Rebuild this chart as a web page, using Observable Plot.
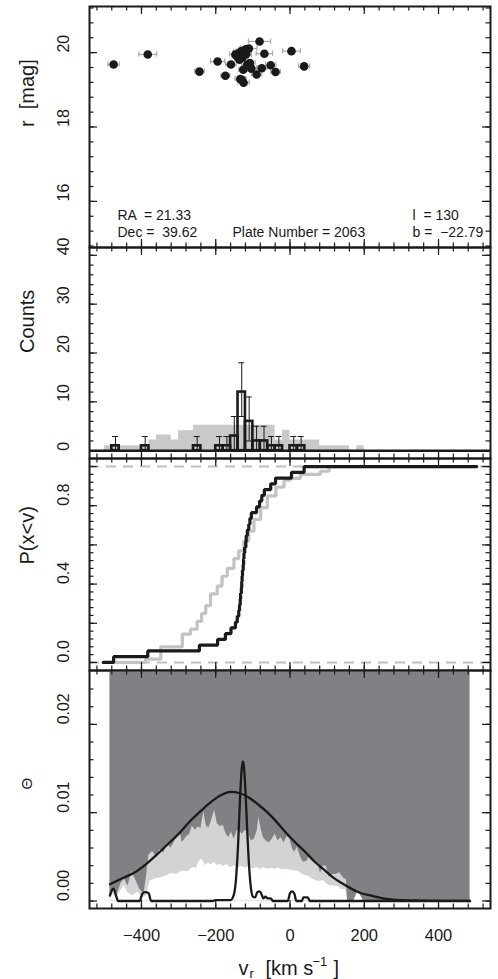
<!DOCTYPE html>
<html><head><meta charset="utf-8">
<script src="https://cdn.jsdelivr.net/npm/d3@7"></script>
<script src="https://cdn.jsdelivr.net/npm/@observablehq/plot@0.6"></script>
<style>
body{margin:0;background:#fff;}
#chart{position:relative;width:498px;height:979px;}
#chart svg{position:absolute;left:0;}
</style></head><body><div id="chart"></div>
<script>
// ---------- data ----------
const xMajorTicks = [-400, -200, 0, 200, 400];
const rTickLabels = [16, 18, 20];
const countTickLabels = [0, 10, 20, 30, 40];
const cdfTickLabels = [0, 0.4, 0.8];
const thetaTickLabels = [0, 0.01, 0.02];

// stars: [v_r (km/s), r (mag), v_r error (km/s)]
const stars = [
  [-475,19.68,15],[-383,19.95,24],[-244,19.49,13],[-195,19.76,19],[-174,19.38,12],
  [-159,19.68,14],[-147,19.95,16],[-142,19.89,14],[-138,19.98,15],[-136,19.81,12],
  [-134,19.29,14],[-133,20.02,18],[-131,19.92,15],[-130,19.27,12],[-129,20.04,16],
  [-128,19.87,14],[-126,19.54,12],[-125,19.19,15],[-124,19.93,20],[-122,20.06,16],
  [-119,20.09,18],[-118,19.96,14],[-115,19.68,15],[-111,20.11,22],[-108,19.72,14],
  [-104,19.57,16],[-90,19.41,14],[-82,20.30,30],[-76,19.58,14],[-69,19.97,22],
  [-52,19.66,14],[-39,19.48,13],[4,20.04,24],[38,19.63,15]
];
const fieldText = {ra: "RA  = 21.33", dec: "Dec =  39.62", plate: "Plate Number = 2063", l: "l  = 130", b: "b =  \u221222.79"};

// observed histogram (20 km/s bins): left edge, count, error low, error high
const binWidth = 20;
const histBinStart = [-480,-400,-260,-200,-180,-160,-140,-120,-100,-80,-60,-40,0,20];
const histCounts   = [1,1,1,1,1,3,12,6,2,2,1,1,1,1];
const histErrLow   = [0,0,0,0,0,0,7,2,0,0,0,0,0,0];
const histErrHigh  = [2.9,2.9,2.9,2.9,2.9,7,18,11,5,5,2.9,2.9,2.9,2.9];

// model histogram (grey): [left edge, expected count]
const modelHist = [
  [-500,1],[-480,1],[-460,1],[-440,1],[-420,1],[-400,1],[-380,2.2],[-360,3.2],[-340,3.2],[-320,2.2],
  [-300,4.1],[-280,4.1],[-260,5.2],[-240,5.2],[-220,5.2],[-200,5.2],[-180,5.2],[-160,5.2],[-140,5.2],
  [-120,5.2],[-100,5.2],[-80,5.2],[-60,5.2],[-40,2.2],[-20,4.2],[0,2.2],[20,2.2],[40,2.2],[60,2.2],
  [80,1],[100,1],[120,1],[140,1],[160,0],[180,1]
];

// model cumulative distribution (grey): [v, P]
const modelCdf = [
  [-485,0],[-389,0.017],[-348,0.08],[-290,0.145],[-268,0.17],[-250,0.21],[-238,0.25],[-227,0.29],
  [-214,0.35],[-196,0.39],[-183,0.44],[-169,0.48],[-151,0.53],[-138,0.57],[-124,0.62],[-111,0.67],
  [-97,0.73],[-79,0.79],[-61,0.85],[-38,0.895],[-16,0.93],[1,0.94],[28,0.96],[82,0.976],[105,1],[485,1]
];
const dataCdfRange = [-503, 503];
const cdfGuides = [0, 1];

// Theta panel
const modelRange = [-485, 485];
const bandUpper = [
  [-485,0.0010],[-476,0.0014],[-465,0.0008],[-455,0.0020],[-446,0.0025],[-436,0.0017],[-426,0.0034],
  [-416,0.0024],[-404,0.0013],[-393,0.0008],[-386,0.0030],[-380,0.0052],[-370,0.0056],[-360,0.0050],
  [-350,0.0058],[-340,0.0054],[-330,0.0064],[-320,0.0060],[-310,0.0068],[-296,0.0078],[-290,0.0066],
  [-280,0.0072],[-270,0.0076],[-263,0.0085],[-255,0.0080],[-247,0.0084],[-240,0.0082],[-232,0.0101],
  [-226,0.0086],[-219,0.0082],[-212,0.0090],[-203,0.0103],[-196,0.0088],[-188,0.0084],[-180,0.0086],
  [-172,0.0076],[-165,0.0072],[-158,0.0078],[-150,0.0070],[-142,0.0080],[-135,0.0078],[-128,0.0076],
  [-120,0.0080],[-112,0.0076],[-104,0.0068],[-96,0.0070],[-88,0.0080],[-84,0.0095],[-78,0.0082],
  [-72,0.0072],[-64,0.0068],[-56,0.0066],[-48,0.0070],[-40,0.0076],[-32,0.0068],[-24,0.0072],
  [-16,0.0066],[-8,0.0073],[0,0.0070],[6,0.0060],[12,0.0055],[20,0.0061],[28,0.0050],[36,0.0044],
  [46,0.0045],[52,0.0051],[58,0.0047],[66,0.0046],[76,0.0042],[82,0.0031],[90,0.0040],[98,0.0039],
  [106,0.0027],[116,0.0030],[124,0.0030],[134,0.0032],[144,0.0026],[152,0.0024],[155,0],[172,0],
  [178,0.0006],[184,0.0012],[190,0.0006],[198,0],[485,0]
];
const bandLower = [
  [-485,0.0004],[-478,0.0008],[-468,0.0004],[-455,0.0012],[-447,0.0018],[-438,0.0010],[-425,0.0006],
  [-410,0.0010],[-395,0.0004],[-386,0.0006],[-378,0.0022],[-365,0.0025],[-350,0.0026],[-335,0.0028],
  [-320,0.0031],[-305,0.0030],[-290,0.0034],[-275,0.0033],[-262,0.0038],[-252,0.0037],[-243,0.0046],
  [-236,0.0047],[-228,0.0040],[-220,0.0043],[-212,0.0041],[-204,0.0044],[-196,0.0040],[-188,0.0042],
  [-180,0.0039],[-170,0.0041],[-160,0.0038],[-150,0.0040],[-140,0.0038],[-130,0.0039],[-120,0.0037],
  [-110,0.0039],[-100,0.0036],[-90,0.0038],[-80,0.0036],[-70,0.0038],[-60,0.0036],[-50,0.0037],
  [-40,0.0036],[-30,0.0037],[-20,0.0035],[-10,0.0036],[0,0.0035],[10,0.0034],[20,0.0034],[30,0.0031],
  [40,0.0029],[50,0.0028],[60,0.0025],[70,0.0023],[80,0.0022],[90,0.0023],[100,0.0019],[110,0.0017],
  [120,0.0017],[130,0.0016],[140,0.0013],[150,0.0013],[155,0],[172,0],[178,0.0006],[184,0.0012],
  [190,0.0006],[198,0],[485,0]
];
const modelCurve = [
  [-485,0.0019],[-450,0.0026],[-420,0.0032],[-390,0.0041],[-360,0.0052],[-330,0.0064],[-300,0.0076],
  [-270,0.0090],[-240,0.0102],[-210,0.0113],[-185,0.0120],[-160,0.01235],[-135,0.0122],[-110,0.0117],
  [-85,0.0109],[-60,0.0100],[-35,0.0089],[-10,0.0077],[15,0.0066],[40,0.0056],[65,0.0045],[90,0.0036],
  [115,0.0027],[140,0.0020],[165,0.0014],[190,0.0009],[220,0.0006],[250,0.0003],[300,0.0001],
  [350,0.00005],[420,0.00002],[485,0]
];
const dataKernel = [
  [-485,0.0006],[-480,0.0012],[-475,0.0014],[-469,0.0007],[-463,0],[-405,0],[-398,0.0008],[-390,0.0010],
  [-381,0.0009],[-374,0],[-210,0],[-200,0.0001],[-170,0.0001],[-160,0.0001],[-152,0.0006],[-146,0.0022],
  [-140,0.0062],[-134,0.0122],[-130,0.0150],[-127,0.0158],[-124,0.0152],[-120,0.0125],[-115,0.0078],
  [-110,0.0038],[-105,0.0014],[-100,0.0005],[-94,0.0004],[-88,0.0010],[-82,0.0011],[-77,0.0008],
  [-72,0.0003],[-66,0.0005],[-60,0.0003],[-52,0.0003],[-46,0],[-6,0],[0,0.0009],[6,0.0011],[12,0.0008],
  [17,0],[32,0],[36,0.0004],[48,0.0004],[53,0],[485,0]
];

// ---------- layout / style ----------
const W = 498, ML = 89, MR = 8, FW = W - ML - MR;
const INK = "#1a1a1a", DARK = "#808185", LIGHT = "#d2d3d5", HISTGRAY = "#c9c9c9",
      CDFGRAY = "#c3c3c3", DASH = "#bfbfbf", ERRGRAY = "#a8a8a8";
const FONT = '"Liberation Sans", Arial, Helvetica, sans-serif';
const MAJOR = 8, MINOR = 4.5;
const xDomain = [-540, 540];
const xMinorTicks = d3.range(-520, 521, 40);

function axesMarks(fh, yMajor, yMinor) {
  const s = {stroke: INK, strokeWidth: 1.2};
  return [
    Plot.ruleX(xMinorTicks, {...s, insetTop: fh - MINOR}),
    Plot.ruleX(xMinorTicks, {...s, insetBottom: fh - MINOR}),
    Plot.ruleX(xMajorTicks, {...s, insetTop: fh - MAJOR}),
    Plot.ruleX(xMajorTicks, {...s, insetBottom: fh - MAJOR}),
    Plot.ruleY(yMinor, {...s, insetRight: FW - MINOR}),
    Plot.ruleY(yMinor, {...s, insetLeft: FW - MINOR}),
    Plot.ruleY(yMajor, {...s, insetRight: FW - MAJOR}),
    Plot.ruleY(yMajor, {...s, insetLeft: FW - MAJOR}),
    Plot.frame({stroke: INK, strokeWidth: 2})
  ];
}
function yLabels(ticks, fmt, title, titleSize) {
  return [
    Plot.text(ticks, {y: d => d, text: fmt, frameAnchor: "left", dx: -26, rotate: -90,
      lineAnchor: "middle", fontSize: 16, fill: INK}),
    Plot.text([title], {frameAnchor: "left", dx: -62, rotate: -90, lineAnchor: "middle",
      fontSize: titleSize, fill: INK})
  ];
}
function panel(top, mt, fh, mb, yDomain, marks) {
  const svg = Plot.plot({
    width: W, height: mt + fh + mb,
    marginLeft: ML, marginRight: MR, marginTop: mt, marginBottom: mb,
    x: {domain: xDomain, axis: null},
    y: {domain: yDomain, axis: null},
    style: {background: "none", overflow: "visible", fontFamily: FONT},
    marks
  });
  svg.style.top = top + "px";
  document.getElementById("chart").append(svg);
}

// ---------- panel 1: r vs v_r ----------
const starData = stars.map(([v, r, e]) => ({v, r, e}));
const annot = (t, dx, dy) => Plot.text([t], {frameAnchor: "bottom-left", textAnchor: "start",
  lineAnchor: "bottom", dx, dy, fontSize: 14, fill: INK});
panel(0, 6, 241, 3, [14.76, 21.24], [
  Plot.ruleY(starData, {y: "r", x1: d => d.v - d.e, x2: d => d.v + d.e, stroke: ERRGRAY, strokeWidth: 1.2}),
  Plot.ruleX(starData, {x: d => d.v - d.e, y1: "r", y2: "r", insetTop: -2.5, insetBottom: -2.5, stroke: ERRGRAY, strokeWidth: 1.2}),
  Plot.ruleX(starData, {x: d => d.v + d.e, y1: "r", y2: "r", insetTop: -2.5, insetBottom: -2.5, stroke: ERRGRAY, strokeWidth: 1.2}),
  Plot.dot(starData, {x: "v", y: "r", r: 4.3, fill: INK, stroke: "none"}),
  annot(fieldText.ra, 28, -28),
  annot(fieldText.dec, 28, -11),
  annot(fieldText.plate, 143, -11),
  annot(fieldText.l, 323, -28),
  annot(fieldText.b, 323, -11),
  ...axesMarks(241, rTickLabels, d3.range(14.8, 21.21, 0.4)),
  ...yLabels(rTickLabels, d => String(d), "r  [mag]", 20)
]);

// ---------- panel 2: counts ----------
const hist = histBinStart.map((x, i) => ({x1: x, x2: x + binWidth, xc: x + binWidth / 2,
  n: histCounts[i], lo: histErrLow[i], hi: histErrHigh[i]}));
const modelArea = [...modelHist.map(([x, n]) => ({x, n})),
  {x: modelHist[modelHist.length - 1][0] + binWidth, n: modelHist[modelHist.length - 1][1]}];
panel(244, 3, 211, 3, [-1.6, 41.6], [
  Plot.areaY(modelArea, {x: "x", y: "n", curve: "step-after", fill: HISTGRAY}),
  Plot.ruleX(hist, {x: "xc", y1: "lo", y2: "hi", stroke: INK, strokeWidth: 1}),
  Plot.ruleY(hist, {y: "hi", x1: "xc", x2: "xc", insetLeft: -3, insetRight: -3, stroke: INK, strokeWidth: 1}),
  Plot.ruleY(hist, {y: "lo", x1: "xc", x2: "xc", insetLeft: -3, insetRight: -3, stroke: INK, strokeWidth: 1}),
  Plot.rect(hist, {x1: "x1", x2: "x2", y1: 0, y2: "n", fill: "none", stroke: INK, strokeWidth: 2.6}),
  Plot.ruleY([0], {stroke: INK, strokeWidth: 2.6}),
  ...axesMarks(211, countTickLabels, d3.range(0, 41, 2)),
  ...yLabels(countTickLabels, d => String(d), "Counts", 20)
]);

// ---------- panel 3: cumulative ----------
const sortedV = stars.map(d => d[0]).sort((a, b) => a - b);
const dataCdf = [{v: dataCdfRange[0], p: 0},
  ...sortedV.map((v, i) => ({v, p: (i + 1) / sortedV.length})),
  {v: dataCdfRange[1], p: 1}];
panel(455, 3, 212, 3, [-0.041, 1.041], [
  Plot.ruleY(cdfGuides, {stroke: DASH, strokeWidth: 2, strokeDasharray: "10,7"}),
  Plot.line(modelCdf, {x: d => d[0], y: d => d[1], curve: "step-after", stroke: CDFGRAY, strokeWidth: 3.2, strokeLinejoin: "miter"}),
  Plot.line(dataCdf, {x: "v", y: "p", curve: "step-after", stroke: INK, strokeWidth: 3.2, strokeLinejoin: "miter"}),
  ...axesMarks(212, d3.range(0, 1.01, 0.2), d3.range(0, 1.01, 0.04)),
  ...yLabels(cdfTickLabels, d3.format(".1f"), "P(x<v)", 20)
]);

// ---------- panel 4: Theta ----------
panel(667, 3, 238, 71, [-0.00085, 0.0261], [
  Plot.rect([modelRange], {x1: d => d[0], x2: d => d[1], y1: 0, y2: 0.0261, fill: DARK}),
  Plot.areaY(bandUpper, {x: d => d[0], y: d => d[1], fill: LIGHT}),
  Plot.areaY(bandLower, {x: d => d[0], y: d => d[1], fill: "white"}),
  Plot.line(modelCurve, {x: d => d[0], y: d => d[1], curve: "monotone-x", stroke: INK, strokeWidth: 2.3}),
  Plot.line(dataKernel, {x: d => d[0], y: d => d[1], curve: "monotone-x", stroke: INK, strokeWidth: 2.3}),
  ...axesMarks(238, thetaTickLabels, d3.range(0, 0.0245, 0.002)),
  ...yLabels(thetaTickLabels, d3.format(".2f"), "\u0398", 15),
  Plot.text(xMajorTicks, {x: d => d, text: d => d3.format("d")(d), frameAnchor: "bottom", dy: 27,
    lineAnchor: "middle", fontSize: 16.5, fill: INK}),
  Plot.text(["v"], {frameAnchor: "bottom-left", textAnchor: "start", lineAnchor: "bottom", dx: 149, dy: 66, fontSize: 20, fill: INK}),
  Plot.text(["r"], {frameAnchor: "bottom-left", textAnchor: "start", lineAnchor: "bottom", dx: 160, dy: 69, fontSize: 13, fill: INK}),
  Plot.text(["[km s"], {frameAnchor: "bottom-left", textAnchor: "start", lineAnchor: "bottom", dx: 176, dy: 66, fontSize: 20, fill: INK}),
  Plot.text(["\u22121"], {frameAnchor: "bottom-left", textAnchor: "start", lineAnchor: "bottom", dx: 223, dy: 57, fontSize: 13, fill: INK}),
  Plot.text(["]"], {frameAnchor: "bottom-left", textAnchor: "start", lineAnchor: "bottom", dx: 244, dy: 66, fontSize: 20, fill: INK})
]);
</script></body></html>
